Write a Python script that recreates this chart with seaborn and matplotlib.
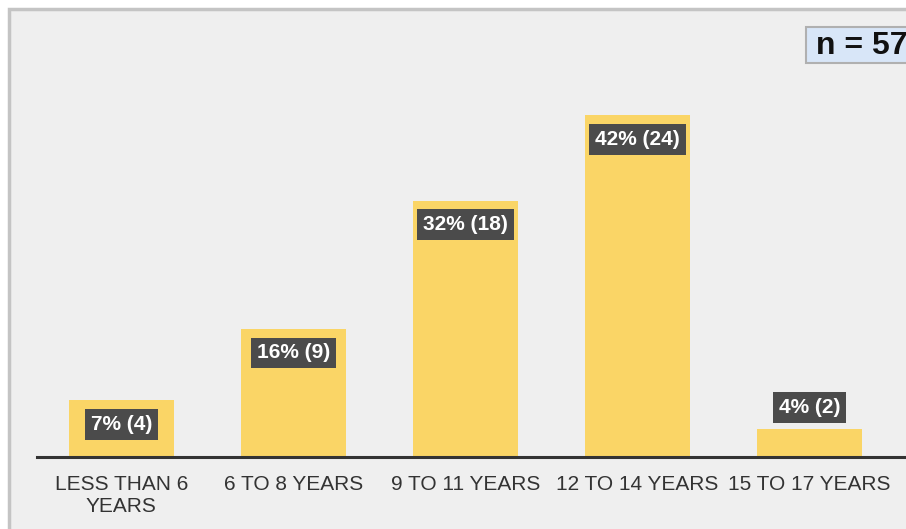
import seaborn as sns
import pandas as pd
import matplotlib.pyplot as plt
from matplotlib.patches import Rectangle

categories = ["LESS THAN 6\nYEARS", "6 TO 8 YEARS", "9 TO 11 YEARS", "12 TO 14 YEARS", "15 TO 17 YEARS"]
counts = [4, 9, 18, 24, 2]
percents = [7, 16, 32, 42, 4]
total_n = 57

sns.set_style("white")
plt.rcParams['font.family'] = ['Liberation Sans', 'DejaVu Sans']

df = pd.DataFrame({"group": categories, "count": counts})

fig = plt.figure(figsize=(9.06, 5.29), dpi=100, facecolor="white")
# grey panel behind the chart
fig.patches.append(Rectangle((9 / 906, -0.05), 1.0, 1 - 9 / 529 + 0.05, transform=fig.transFigure,
                             facecolor="#efefef", edgecolor="#c4c4c4", linewidth=2.5, zorder=-5))

ax = fig.add_axes([37 / 906, 1 - 457 / 529, 1 - 37 / 906 + 0.02, (457 - 20) / 529])
ax.set_facecolor("none")
sns.barplot(data=df, x="group", y="count", color="#fad566", saturation=1, width=0.61,
            linewidth=0, ax=ax)

ax.set_xlim(-0.49, 4.667)
ax.set_ylim(0, (457 - 20) / 14.25)
for s in ["top", "right", "left"]:
    ax.spines[s].set_visible(False)
ax.spines["bottom"].set_color("#333333")
ax.spines["bottom"].set_linewidth(2.2)
ax.set_yticks([])
ax.set_xlabel("")
ax.set_ylabel("")
ax.tick_params(axis="x", length=0, pad=13, labelsize=15, labelcolor="#333333")

for i, (c, p) in enumerate(zip(counts, percents)):
    if c > 3:
        y = c - 1.7
    else:
        y = c + 1.47
    ax.text(i, y, f"{p}% ({c})", ha="center", va="center", color="white",
            fontsize=15, fontweight="bold",
            bbox=dict(boxstyle="square,pad=0.28", facecolor="#4b4b4b", edgecolor="none"))

# "n = 57" box in the top right corner
fig.patches.append(Rectangle((806 / 906, 1 - 63 / 529), 0.2, 36 / 529, transform=fig.transFigure,
                             facecolor="#d8e6f8", edgecolor="#b0b0b0", linewidth=1.5, zorder=1))
fig.text(816 / 906, 1 - 46 / 529, f"n = {total_n}", ha="left", va="center", fontsize=23,
         fontweight="bold", color="#111111", zorder=2)

fig.savefig("out.png", dpi=100, facecolor="white")
